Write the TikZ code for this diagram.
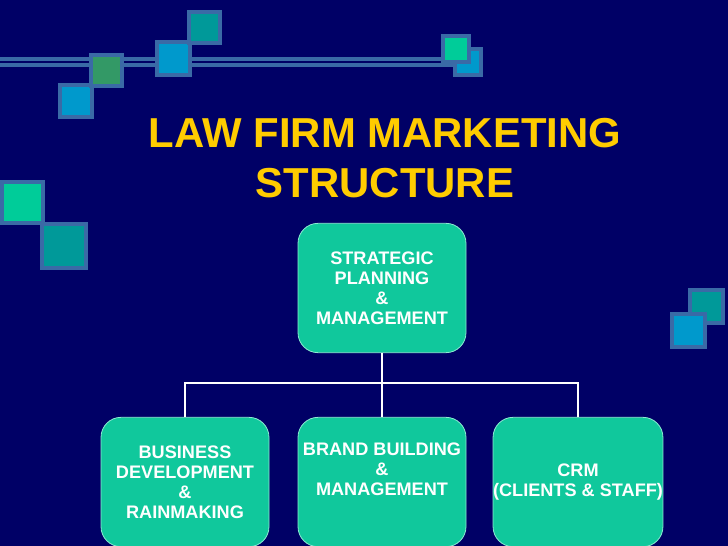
\documentclass[tikz,border=0pt]{standalone}
\usepackage{fontspec}
\setmainfont{Liberation Sans}
\definecolor{slidebg}{HTML}{000066}
\definecolor{boxfill}{HTML}{10C89C}
\definecolor{boxedge}{HTML}{8CEBD2}
\definecolor{titlecol}{HTML}{FFCC00}
\definecolor{tileedge}{HTML}{3A6AA6}
\definecolor{tileblue}{HTML}{0099CC}
\definecolor{tilegreen}{HTML}{339966}
\definecolor{tileteal}{HTML}{009999}
\definecolor{tilemint}{HTML}{00CC99}
\tikzset{
  orgbox/.style={draw=boxedge, line width=0.6pt, fill=boxfill, rounded corners=15pt,
    minimum width=126pt, minimum height=97pt, inner sep=0pt, align=center,
    text=white, font=\fontsize{13.6}{15}\selectfont\bfseries},
  link/.style={draw=white, line width=1.5pt},
}
\begin{document}
\begin{tikzpicture}[x=0.75pt, y=-0.75pt]
    \useasboundingbox (0,0) rectangle (728,546);
    \clip (0,0) rectangle (728,546);
    \fill[slidebg] (0,0) rectangle (728,546);
    % rail behind the tiles
    \draw[tileedge, line width=7pt] (0,62) -- (465,62);
    \draw[slidebg, line width=1.2pt] (0,62) -- (465,62);
    \foreach \x/\y/\s/\c in {58/83/35/tileblue, 89/53/34/tilegreen, 155/40/36/tileblue,
        187/10/34/tileteal, 453/47/29/tileblue, 441/34/29/tilemint, 0/180/44/tilemint,
        40/222/47/tileteal, 688/288/36/tileteal, 670/312/36/tileblue}
      \filldraw[fill=\c, draw=tileedge, line width=3pt] (\x+1.5,\y+1.5) rectangle ++(\s-3,\s-3);
    \node[titlecol, font=\fontsize{31.4}{37.5}\selectfont\bfseries, align=center] (title)
      at (385,158) {LAW FIRM MARKETING\\STRUCTURE};
    \node[orgbox] (strat) at (382,288) {STRATEGIC\\PLANNING\\\&\\MANAGEMENT};
    \node[orgbox] (busdev) at (185,482) {BUSINESS\\DEVELOPMENT\\\&\\RAINMAKING};
    \node[orgbox] (brand) at (382,482) {BRAND BUILDING\\\&\\MANAGEMENT\\\strut};
    \node[orgbox] (crm) at (578,482) {CRM\\(CLIENTS \& STAFF)};
    \coordinate (hub) at (382,383);
    \draw[link] (strat.south) -- (hub) -| (busdev.north);
    \draw[link] (hub) -| (crm.north);
    \draw[link] (hub) -- (brand.north);
  \end{tikzpicture}
\end{document}
